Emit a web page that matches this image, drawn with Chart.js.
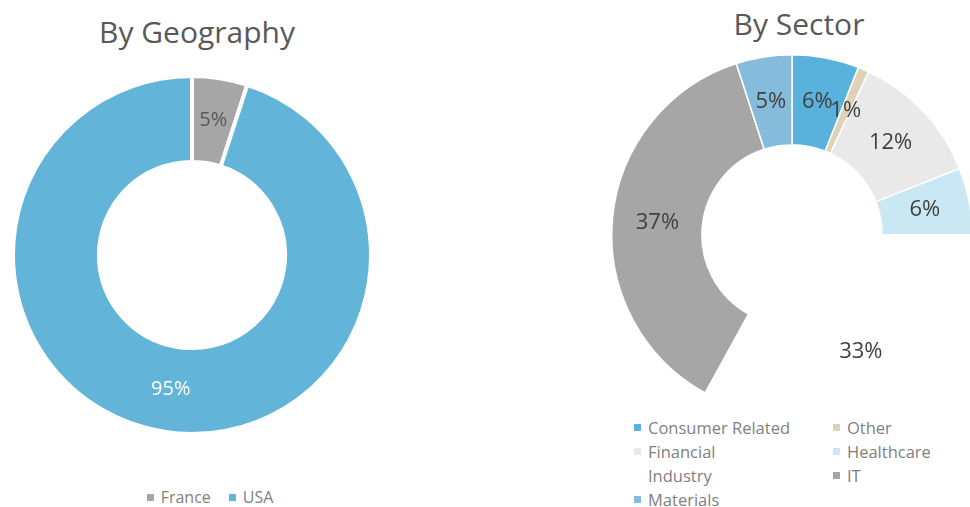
<html>
<head>
  <style>
    body{
      margin: 0;
      width: 970px;
      height: 507px;
      overflow: hidden;
      background: #fff;
      font-family: "Open Sans", Arial, sans-serif;
      color: #595959;
      position: relative;
    }
    .title{
      position: absolute;
      font-size: 30px;
      color: #595959;
      text-align: center;
      white-space: nowrap;
    }
    .box{
      position: absolute;
    }
    .legend{
      position: absolute;
      font-size: 16px;
      color: #7f7f7f;
    }
    .legend .item{
      display: inline-flex;
      align-items: center;
      white-space: nowrap;
    }
    .legend .sw{
      width: 7px;
      height: 7px;
      margin-right: 7px;
      display: inline-block;
    }
    #secLegend{
      display: grid;
      grid-template-columns: 199px 140px;
      row-gap: 1px;
      font-size: 16.5px;
      line-height: 23px;
    }
  </style>
  <script src="https://cdn.jsdelivr.net/npm/chart.js"></script>
</head>
<body>

<div class="title" style="left:47px; top:11px; width:300px;">By Geography</div>
<div class="title" style="left:649px; top:3px; width:300px;">By Sector</div>

<div class="box" style="left:11px; top:74px;"><canvas id="geoChart" width="362" height="362"></canvas></div>
<div class="box" style="left:611px; top:54px;"><canvas id="secChart" width="362" height="362"></canvas></div>

<div class="legend" id="geoLegend" style="left:20px; width:380px; top:486px; text-align:center;"></div>
<div class="legend" id="secLegend" style="left:634px; top:416px;"></div>

<script>
  // geography
  var geoLabels = ['France', 'USA'];
  var geoValues = [5, 95];
  var geoColors = ['#a6a6a6', '#63b4d9'];
  var geoLabelColors = ['#595959', '#ffffff'];

  // sector (clockwise from 12 o'clock)
  var secLabels = ['Consumer Related', 'Other', 'Financial', 'Healthcare', 'Industry', 'IT', 'Materials'];
  var secValues = [6, 1, 12, 6, 33, 37, 5];
  var secColors = ['#58b2db', '#e0d2b6', '#e9e9e9', '#c9e8f3', '#ffffff', '#a6a6a6', '#86bcdb'];

  // draws the % text in the middle of each slice
  var pctLabels = {
    id: 'pctLabels',
    afterDatasetsDraw(chart, args, opts) {
      var c = chart.ctx;
      var ds = chart.data.datasets[0];
      chart.getDatasetMeta(0).data.forEach(function(arc, i) {
        var p = arc.tooltipPosition();
        c.save();
        c.font = opts.size + 'px "Open Sans", Arial, sans-serif';
        c.fillStyle = Array.isArray(opts.color) ? opts.color[i] : opts.color;
        c.textAlign = 'center';
        c.textBaseline = 'middle';
        c.fillText(ds.data[i] + '%', p.x, p.y);
        c.restore();
      });
    }
  };

  Chart.register(pctLabels);

  new Chart(document.getElementById('geoChart'), {
    type: 'doughnut',
    data: {
      labels: geoLabels,
      datasets: [{
        data: geoValues,
        backgroundColor: geoColors,
        borderColor: '#ffffff',
        borderWidth: 4
      }]
    },
    options: {
      responsive: false,
      animation: false,
      cutout: '52%',
      events: [],
      plugins: {
        legend: { display: false },
        tooltip: { enabled: false },
        pctLabels: { size: 20, color: geoLabelColors }
      }
    }
  });

  new Chart(document.getElementById('secChart'), {
    type: 'doughnut',
    data: {
      labels: secLabels,
      datasets: [{
        data: secValues,
        backgroundColor: secColors,
        borderColor: '#ffffff',
        borderWidth: 1.5
      }]
    },
    options: {
      responsive: false,
      animation: false,
      cutout: '50%',
      events: [],
      plugins: {
        legend: { display: false },
        tooltip: { enabled: false },
        pctLabels: { size: 22, color: '#404040' }
      }
    }
  });

  // legends
  function fillLegend(el, labels, colors, sep) {
    labels.forEach(function(l, i) {
      var it = document.createElement('span');
      it.className = 'item';
      if (sep && i > 0) it.style.marginLeft = sep + 'px';
      it.innerHTML = '<span class="sw" style="background:' + colors[i] + '"></span>' + l;
      el.appendChild(it);
    });
  }
  fillLegend(document.getElementById('geoLegend'), geoLabels, geoColors, 18);
  fillLegend(document.getElementById('secLegend'), secLabels, secColors, 0);
</script>
</body>
</html>
